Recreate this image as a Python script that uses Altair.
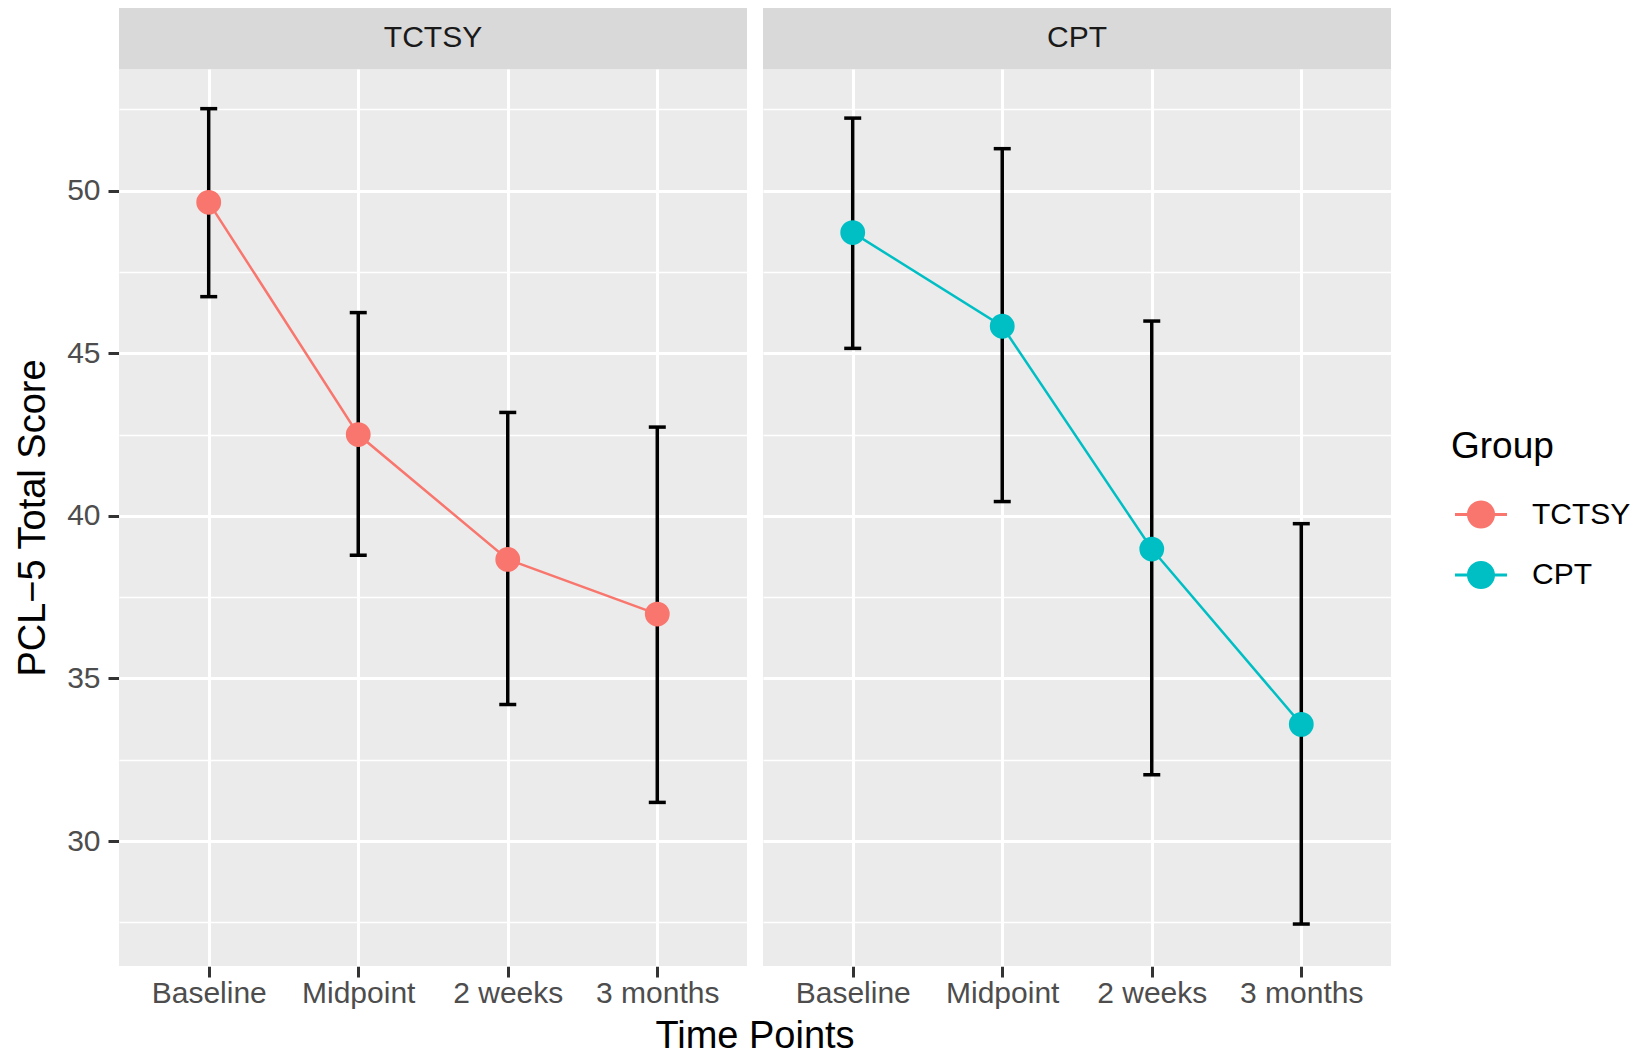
import altair as alt
import pandas as pd

# ---- data ----
groups = ["TCTSY", "CPT"]
time_points = ["Baseline", "Midpoint", "2 weeks", "3 months"]
tctsy_mean = [49.64, 42.50, 38.66, 36.98]
tctsy_lower = [46.74, 38.79, 34.20, 31.19]
tctsy_upper = [52.52, 46.25, 43.18, 42.73]
cpt_mean = [48.71, 45.83, 38.98, 33.59]
cpt_lower = [45.15, 40.44, 32.04, 27.45]
cpt_upper = [52.23, 51.29, 45.99, 39.76]
group_colors = ["#F8766D", "#00BFC4"]
y_domain = [26.16, 53.74]
y_breaks = [27.5, 30, 32.5, 35, 37.5, 40, 42.5, 45, 47.5, 50, 52.5]

rows = []
for g, m, lo, hi in [("TCTSY", tctsy_mean, tctsy_lower, tctsy_upper),
                     ("CPT", cpt_mean, cpt_lower, cpt_upper)]:
    for t, a, b, c in zip(time_points, m, lo, hi):
        rows.append({"Group": g, "Time": t, "Mean": a, "Lower": b, "Upper": c})
df = pd.DataFrame(rows)

FONT = "Liberation Sans"
W, H, STRIP = 628, 897, 63

xscale = alt.Scale(type="point", padding=0.6, domain=time_points)
xaxis = alt.Axis(title=None, labelFontSize=30, labelColor="#4D4D4D", labelFont=FONT,
                 tickColor="#333333", tickWidth=3, tickSize=11, labelPadding=1,
                 domain=False, grid=True, gridColor="white", gridWidth=3, labelAngle=0)
X = alt.X("Time:N", scale=xscale, axis=xaxis, sort=time_points)

yscale = alt.Scale(domain=y_domain, nice=False, zero=False)
yaxis = alt.Axis(values=y_breaks, labelFontSize=30, labelColor="#4D4D4D", labelFont=FONT,
                 labelExpr="datum.value % 5 === 0 ? datum.label : ''",
                 tickColor="#333333", tickWidth=3, tickSize=11, labelPadding=8,
                 tickOpacity=alt.condition("datum.value % 5 === 0", alt.value(1), alt.value(0)),
                 gridWidth=alt.condition("datum.value % 5 === 0", alt.value(3), alt.value(1.5)),
                 domain=False, grid=True, gridColor="white",
                 titleFontSize=38, titleFont=FONT, titleColor="black", titleFontWeight="normal",
                 titlePadding=14)
YT = "PCL\u22125 Total Score"

# fill scale (carries the legend) and a colour scale for the lines
# (same mapping, listed in the other order so its hidden legend stays separate)
fill_scale = alt.Scale(domain=groups, range=group_colors)
line_scale = alt.Scale(domain=groups[::-1], range=group_colors[::-1])

# legend key: a thin bar with a dot on it (filled shape)
SYMBOL = ("M-1,-0.055L1,-0.055L1,0.055L-1,0.055Z"
          "M0.54,0A0.54,0.54,0,1,1,-0.54,0A0.54,0.54,0,1,1,0.54,0Z")
legend = alt.Legend(title=[" ", "Group"], titleLineHeight=360, symbolType=SYMBOL,
                    symbolSize=52 * 52, symbolStrokeWidth=0, symbolOpacity=1, symbolOffset=4,
                    titleFontSize=37, titleFont=FONT, titleColor="black", titleFontWeight="normal",
                    labelFontSize=30, labelFont=FONT, labelColor="black", labelOffset=25,
                    rowPadding=19.5, titlePadding=22.5, padding=0, orient="right", offset=60)

strip_rect = alt.Chart().transform_filter(alt.datum.Time == "Baseline").mark_rect(
    color="#D9D9D9").encode(x=alt.value(0), x2=alt.value(W), y=alt.value(-STRIP), y2=alt.value(0))
strip_text = alt.Chart().transform_filter(alt.datum.Time == "Baseline").mark_text(
    fontSize=30, font=FONT, color="#1A1A1A", baseline="middle", align="center").encode(
    x=alt.value(W / 2), y=alt.value(-STRIP / 2), text="Group:N")

errbar = alt.Chart().mark_rule(color="black", strokeWidth=3.5).encode(
    x=X, y=alt.Y("Lower:Q", scale=yscale, axis=yaxis, title=YT), y2="Upper:Q")
cap_lo = alt.Chart().mark_tick(color="black", thickness=3.5, size=17, opacity=1).encode(
    x=X, y=alt.Y("Lower:Q", scale=yscale, axis=yaxis, title=YT))
cap_hi = alt.Chart().mark_tick(color="black", thickness=3.5, size=17, opacity=1).encode(
    x=X, y=alt.Y("Upper:Q", scale=yscale, axis=yaxis, title=YT))
line = alt.Chart().mark_line(strokeWidth=2.5).encode(
    x=X, y=alt.Y("Mean:Q", scale=yscale, axis=yaxis, title=YT),
    color=alt.Color("Group:N", scale=line_scale, legend=None))
points = alt.Chart().mark_point(filled=True, size=616, opacity=1, strokeWidth=0).encode(
    x=X, y=alt.Y("Mean:Q", scale=yscale, axis=yaxis, title=YT),
    fill=alt.Fill("Group:N", scale=fill_scale, legend=legend))

panel = alt.layer(strip_rect, strip_text, errbar, cap_lo, cap_hi, line, points, data=df).properties(
    width=W, height=H)

chart = panel.facet(
    column=alt.Column("Group:N", sort=groups,
                      header=alt.Header(title="Time Points", titleOrient="bottom", labels=False,
                                        titleFontSize=38, titleFont=FONT, titleColor="black",
                                        titleFontWeight="normal", titlePadding=0)),
    spacing=16,
).configure_view(fill="#EBEBEB", stroke=None).properties(
    padding={"left": 6, "top": -2, "right": 5, "bottom": 0}, background="white")

chart.save("out.html", embed_options={"renderer": "svg", "actions": False})
